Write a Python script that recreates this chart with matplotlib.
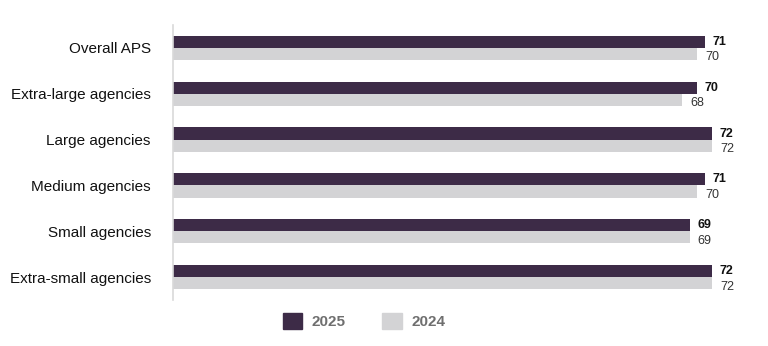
import matplotlib
matplotlib.use("Agg")
import matplotlib.pyplot as plt
import numpy as np
from matplotlib.patches import Patch

categories = ["Overall APS", "Extra-large agencies", "Large agencies",
              "Medium agencies", "Small agencies", "Extra-small agencies"]
values_2025 = [71, 70, 72, 71, 69, 72]
values_2024 = [70, 68, 72, 70, 69, 72]
series_names = ["2025", "2024"]

c25 = "#3D2B47"
c24 = "#D3D3D5"

plt.rcParams['font.family'] = ['Liberation Sans', 'DejaVu Sans']

fig = plt.figure(figsize=(7.68, 3.46), dpi=100)
ax = fig.add_axes([173/768, 1-300/346, (760-173)/768, 275/346])

y = np.arange(len(categories))
h = 0.265
ax.barh(y - h/2, values_2025, height=h, color=c25, label=series_names[0])
ax.barh(y + h/2, values_2024, height=h, color=c24, label=series_names[1])

for yi, v in zip(y, values_2025):
    ax.text(v + 1.0, yi - h/2, f"{v}", va="center", ha="left",
            fontsize=9, fontweight="bold", color="#111111")
for yi, v in zip(y, values_2024):
    ax.text(v + 1.1, yi + h/2 + 0.075, f"{v}", va="center", ha="left",
            fontsize=9, color="#333333")

ax.set_xlim(0, 78.4)
ax.set_ylim(len(categories) - 0.5, -0.5)
ax.set_yticks(y)
ax.set_yticklabels(categories, fontsize=11, color="#111111")
ax.tick_params(axis="y", length=0, pad=16)
ax.set_xticks([])
for s in ["top", "right", "bottom"]:
    ax.spines[s].set_visible(False)
ax.spines["left"].set_color("#D9D9D9")
ax.spines["left"].set_linewidth(1.2)

handles = [Patch(facecolor=c25, edgecolor=c25), Patch(facecolor=c24, edgecolor=c24)]
leg = fig.legend(handles, series_names, loc="center", bbox_to_anchor=(364/768, 1-321/346),
                 ncol=2, frameon=False, handlelength=1.3, handleheight=1.3,
                 columnspacing=2.4, handletextpad=0.6,
                 prop={"size": 11, "weight": "bold"})
for t in leg.get_texts():
    t.set_color("#6F6F6F")

fig.savefig("out.png", dpi=100)
